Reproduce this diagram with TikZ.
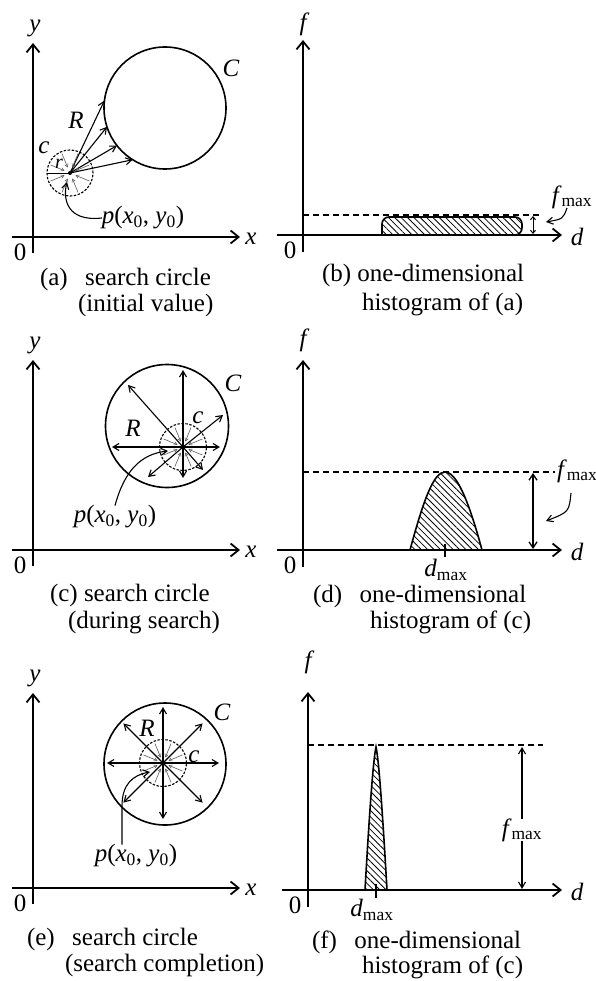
\documentclass[tikz,border=0pt]{standalone}
\usepackage{fontspec}
\setmainfont{Liberation Serif}
\usetikzlibrary{arrows.meta, patterns.meta}

\begin{document}
\begin{tikzpicture}[x=1pt, y=-1pt,
    every node/.style={font=\fontsize{25}{29}\selectfont, inner sep=0pt, outer sep=0pt},
    lab/.style={font=\fontsize{25}{29}\selectfont\itshape},
    capline/.style={anchor=base west},
    axis/.style={line width=1.8pt, -{Straight Barb[length=8pt, width=13pt]}},
    rim/.style={circle, draw, line width=1.6pt},
    probe/.style={circle, draw, line width=1.1pt, dash pattern=on 2.5pt off 1.5pt},
    ray/.style={line width=1.1pt, -{Straight Barb[length=6pt, width=7pt]}},
    spoke/.style={line width=0.6pt, black!65, -{Straight Barb[length=3pt, width=3.5pt]}},
    guide/.style={line width=1.2pt, dash pattern=on 6pt off 4pt},
    meas/.style={line width=1.3pt, {Straight Barb[length=6pt, width=8pt]}-{Straight Barb[length=6pt, width=8pt]}},
    hist/.style={line width=1.6pt, pattern={Lines[angle=-45, distance=4.5pt, line width=0.8pt]}},
]
\def\fmax{\textit{f}\textsubscript{max}}
\def\dmax{\textit{d}\textsubscript{max}}
\def\pxy{\textit{p}(\textit{x}\textsubscript{0}, \textit{y}\textsubscript{0})}

\useasboundingbox (0,0) rectangle (596,981);

% x-y axes of the search circle panels
\foreach \oy/\ty/\nm in {237/43/a, 550/360/c, 888/693/e}{
    \draw[axis] (33,\oy+16) -- (33,\ty);
    \draw[axis] (12,\oy) -- (240,\oy);
    \node[lab] (y\nm) at (35,\ty-15) {y};
    \node[lab] (x\nm) at (251,\oy+2) {x};
    \node (o\nm) at (20,\oy+15) {0};
}

% d-f axes of the histogram panels
\foreach \ox/\oy/\ty/\fy/\nm in {303/235/40/24/b, 303/550/360/340/d, 308/890/692/662/f}{
    \draw[axis] (\ox,\oy+17) -- (\ox,\ty);
    \draw[axis] (\ox-26,\oy) -- (562,\oy);
    \node[lab] (f\nm) at (\ox,\fy) {f};
    \node[lab] (d\nm) at (577,\oy+2) {d};
    \node (o\nm) at (\ox-13,\oy+15) {0};
}

% (a) initial value
\node[rim, minimum size=122] (Ca) at (165,108) {};
\coordinate (pa) at (70,173);
\node[probe, minimum size=46] (ca) at (pa) {};
\foreach \a in {173,198,218,238}{
    \draw[ray] (pa) -- (Ca.\a);
}
\draw[line width=0.9pt] (ca.west) -- (pa);
\foreach \a in {22.5,67.5,...,337.5}{
    \draw[spoke] ([shift={(\a:21)}]pa) -- ([shift={(\a:6)}]pa);
}
\fill (pa) circle (2);
\node[lab] (Ra) at (76,120) {R};
\node[lab] (Cla) at (231,68) {C};
\node[lab] (cla) at (44,148) {c};
\node[lab, font=\fontsize{20}{24}\selectfont\itshape] (ra) at (59,164) {r};
\node (pla) at (143,218) {\pxy};
\draw[ray] (pla.west) .. controls (66,222) and (63,198) .. (67,182);

% (b) its histogram
\draw[hist] (382,235) [rounded corners=7] -- (382,217) -- (522,217) -- (522,235) [sharp corners] -- cycle;
\draw[guide] (303,215) -- (542,215);
\draw[line width=1pt, {Straight Barb[length=3pt, width=5pt]}-{Straight Barb[length=3pt, width=5pt]}] (533,216) -- (533,234);
\node (fmb) at (572,197) {\fmax};
\draw[ray] (567,208) .. controls (563,219) .. (546,222);

% (c) during search
\node[rim, minimum size=123] (Cc) at (167,426) {};
\coordinate (pc) at (183,447);
\node[probe, minimum size=47] (cc) at (pc) {};
\foreach \dx/\dy in {0/-77, -55/-62, -71/0, 40/-32, 37/0, -35/30, 0/31, 20/23}{
    \draw[ray] (pc) -- ++(\dx,\dy);
}
\foreach \a in {22.5,67.5,...,337.5}{
    \draw[spoke] ([shift={(\a:21)}]pc) -- ([shift={(\a:6)}]pc);
}
\fill (pc) circle (2.2);
\node[lab] (Rc) at (133,428) {R};
\node[lab] (Clc) at (233,383) {C};
\node[lab] (clc) at (198,418) {c};
\node (plc) at (115,517) {\pxy};
\draw[ray] (plc.north) .. controls (124,472) and (140,454) .. (168,451);

% (d) its histogram
\draw[hist] (410,550) .. controls (424,498) and (434,472) .. (445,472) .. controls (456,472) and (468,498) .. (482,550) -- cycle;
\draw[guide] (303,472) -- (555,472);
\draw[meas] (533,473) -- (533,549);
\draw[line width=1.2pt] (445,544) -- (445,557);
\node[anchor=west] (fmd) at (557,471) {\fmax};
\draw[ray] (571,493) .. controls (569,512) .. (546,521);
\node (dmd) at (446,570) {\dmax};

% (e) search completion
\node[rim, minimum size=122] (Ce) at (165,764) {};
\coordinate (pe) at (163,763);
\node[probe, minimum size=47] (ce) at (pe) {};
\foreach \a in {0,45,...,315}{
    \draw[ray] (pe) -- ++(\a:56);
}
\foreach \a in {22.5,67.5,...,337.5}{
    \draw[spoke] ([shift={(\a:21)}]pe) -- ([shift={(\a:6)}]pe);
}
\fill (pe) circle (2.2);
\node[lab] (Re) at (147,728) {R};
\node[lab] (Cle) at (222,712) {C};
\node[lab] (cle) at (194,757) {c};
\node (ple) at (136,856) {\pxy};
\draw[ray] ([xshift=-14]ple.north) -- (122,806) .. controls (122,784) and (133,775) .. (150,772);

% (f) its histogram
\draw[hist] (365,890) .. controls (369,820) and (373,760) .. (376,747) .. controls (379,760) and (383,820) .. (387,890) -- cycle;
\draw[guide] (308,745) -- (543,745);
\node (fmf) at (522,830) {\fmax};
\draw[ray] (fmf.north) -- (522,747);
\draw[ray] (fmf.south) -- (522,889);
\draw[line width=1.2pt] (376,884) -- (376,898);
\node (dmf) at (372,910) {\dmax};

% captions
\node[capline] (capa1) at (40,285) {(a)\hspace{0.7em}search circle};
\node[capline] (capa2) at (78,311) {(initial value)};
\node[capline] (capb1) at (322,282) {(b) one-dimensional};
\node[capline] (capb2) at (362,310) {histogram of (a)};
\node[capline] (capc1) at (50,601) {(c) search circle};
\node[capline] (capc2) at (68,628) {(during search)};
\node[capline] (capd1) at (313,602) {(d)\hspace{0.7em}one-dimensional};
\node[capline] (capd2) at (370,628) {histogram of (c)};
\node[capline] (cape1) at (27,945) {(e)\hspace{0.7em}search circle};
\node[capline] (cape2) at (65,971) {(search completion)};
\node[capline] (capf1) at (312,948) {(f)\hspace{0.7em}one-dimensional};
\node[capline] (capf2) at (362,973) {histogram of (c)};
\end{tikzpicture}
\end{document}
